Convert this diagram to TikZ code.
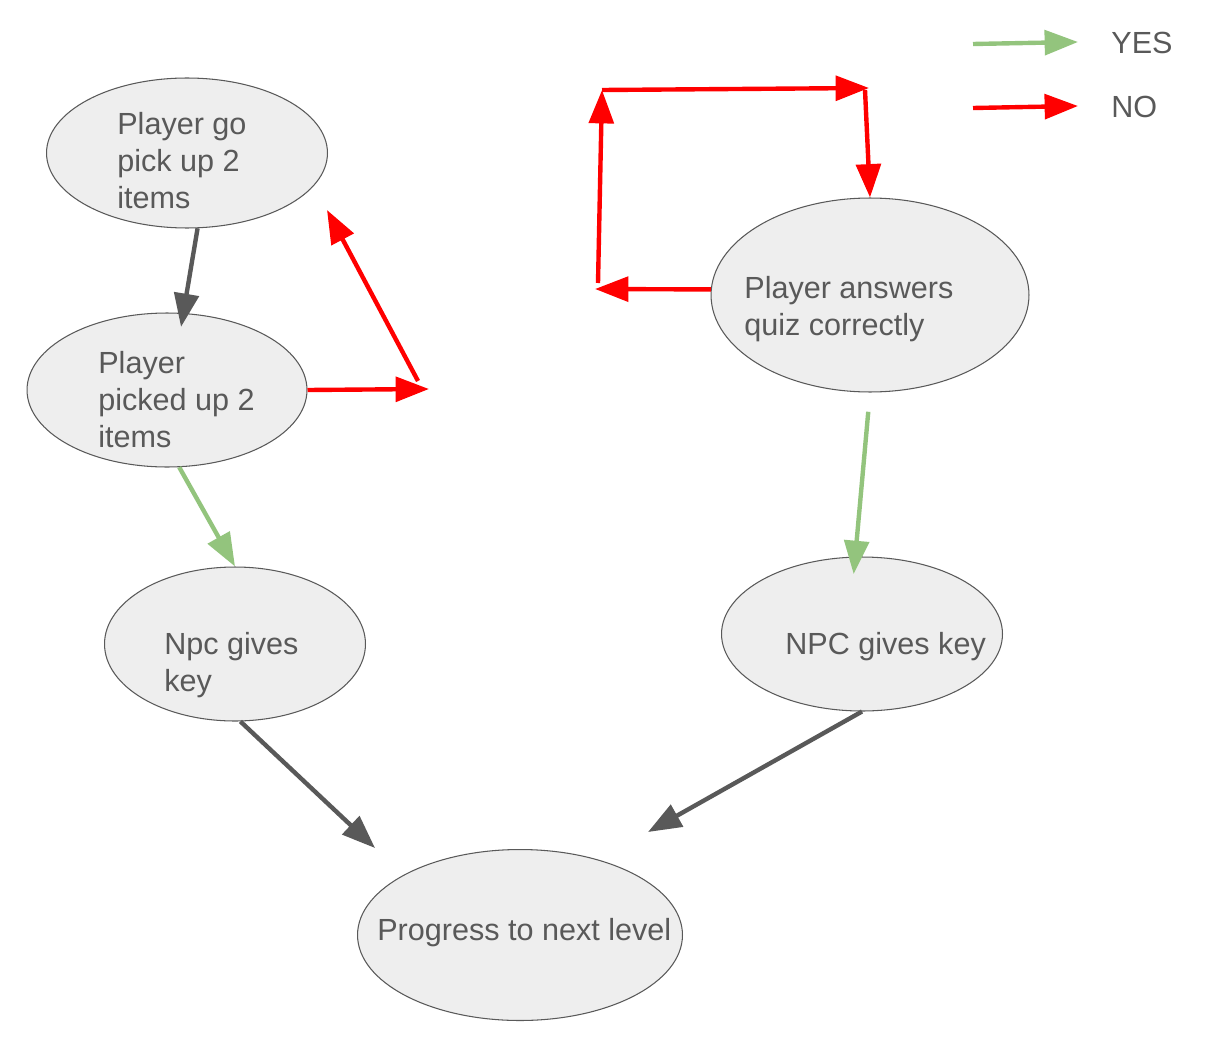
\documentclass[tikz,border=0pt]{standalone}
\usepackage{fontspec}
\setmainfont{Liberation Sans}
\usetikzlibrary{shapes, positioning, arrows.meta}
\definecolor{darkline}{HTML}{595959}
\definecolor{bubblefill}{HTML}{EEEEEE}
\definecolor{yesgreen}{HTML}{93C47D}
\definecolor{nored}{HTML}{FF0000}

\begin{document}
\begin{tikzpicture}[x=0.02cm, y=-0.02cm,
    bubble/.style={ellipse, draw=darkline, fill=bubblefill, line width=0.6pt, inner sep=0pt},
    txt/.style={anchor=north west, inner sep=0pt, align=left, text=darkline, font=\fontsize{17.4}{21}\selectfont},
    flow/.style={draw=darkline, line width=2.5pt, -{Triangle[length=19pt, width=14pt]}},
    yesarrow/.style={flow, draw=yesgreen},
    noarrow/.style={flow, draw=nored}]
      \useasboundingbox (0,0) rectangle (1219,1044);
      \node (pick)[bubble, minimum width=5.62cm, minimum height=3cm] at (187,153) {};
      \node (picked)[bubble, minimum width=5.6cm, minimum height=3.08cm] at (167,390) {};
      \node (npcl)[bubble, minimum width=5.22cm, minimum height=3.08cm] at (235,644) {};
      \node (npcr)[bubble, minimum width=5.62cm, minimum height=3.08cm] at (862,634) {};
      \node (quiz)[bubble, minimum width=6.36cm, minimum height=3.88cm] at (870,295) {};
      \node (prog)[bubble, minimum width=6.5cm, minimum height=3.42cm] at (520,935) {};
      \node (pick-t)[txt] at (117,112) {Player go\\pick up 2\\items};
      \node (picked-t)[txt] at (98,351) {Player\\picked up 2\\items};
      \node (npcl-t)[txt] at (164,632) {Npc gives\\key};
      \node (npcr-t)[txt] at (785,632) {NPC gives key};
      \node (quiz-t)[txt] at (744,276) {Player answers\\quiz correctly};
      \node (prog-t)[txt] at (377,918) {Progress to next level};
      \node (yes-t)[txt] at (1111,32) {YES};
      \node (no-t)[txt] at (1111,96) {NO};
      % loose ends
      \coordinate (r0) at (429,389);
      \coordinate (r1) at (418,381);
      \coordinate (r2) at (327,210);
      \coordinate (q0) at (595,289);
      \coordinate (q1) at (598,283);
      \coordinate (q2) at (602,90);
      \coordinate (q3) at (869,88);
      \coordinate (q4) at (865,90);
      \coordinate (p0) at (375,848);
      \coordinate (p1) at (648,832);
      \coordinate (ly0) at (973,44);
      \coordinate (ly1) at (1078,42);
      \coordinate (ln0) at (973,108);
      \coordinate (ln1) at (1078,106);
      \draw[flow, shorten >=-8pt] (pick.-82) -- (picked.78);
      \draw[flow] (npcl.-86) -- (p0);
      \draw[flow] (npcr.south) -- (p1);
      \draw[yesarrow] (picked.-81) -- (npcl.north);
      \draw[yesarrow, shorten <=11pt, shorten >=-10pt] (quiz.south) -- (npcr.95);
      \draw[noarrow] (picked.east) -- (r0);
      \draw[noarrow] (r1) -- (r2);
      \draw[noarrow] (quiz.178) -- (q0);
      \draw[noarrow] (q1) -- (q2);
      \draw[noarrow] (q2) -- (q3);
      \draw[noarrow] (q4) -- (quiz.north);
      \draw[yesarrow] (ly0) -- (ly1);
      \draw[noarrow] (ln0) -- (ln1);
\end{tikzpicture}
\end{document}
